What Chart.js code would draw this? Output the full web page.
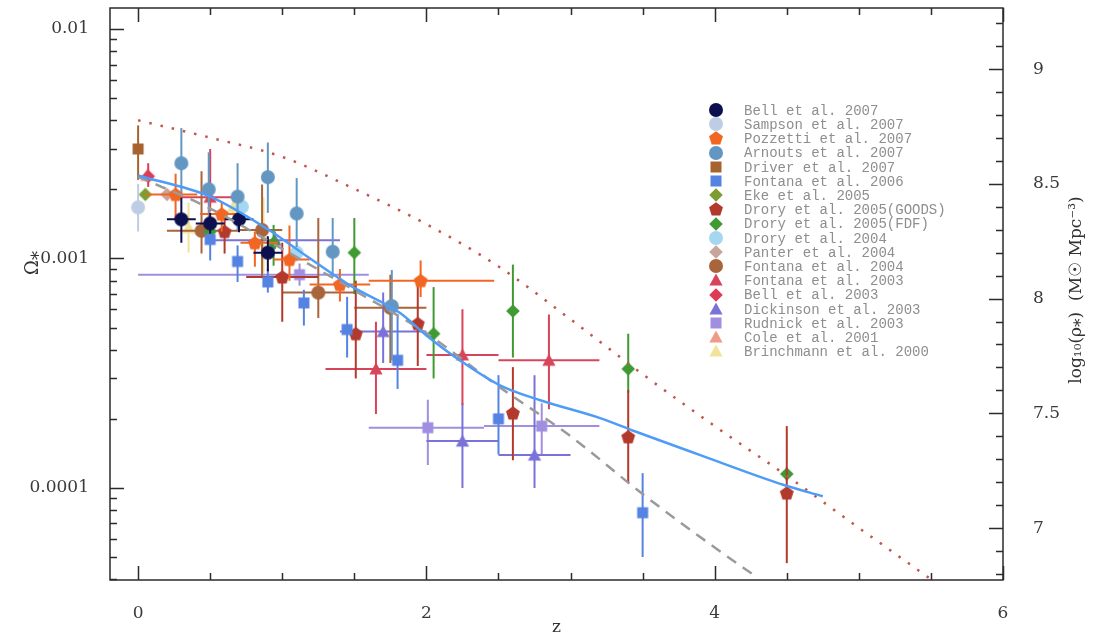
<!DOCTYPE html>
<html>
<head>
<meta charset="utf-8">
<title>Stellar mass density vs redshift</title>
<script src="https://cdn.jsdelivr.net/npm/chart.js@4.4.1/dist/chart.umd.min.js"></script>
<style>
  html, body { margin: 0; padding: 0; background: #fff; }
  #wrap { width: 1095px; height: 638px; }
</style>
</head>
<body>
<div id="wrap"><canvas id="rho-chart" width="1095" height="638"></canvas></div>
<script>
// each row: [z, omega, zLow, zHigh, omegaLow, omegaHigh]  (null = no bar)
var bell07 = [
  [0.30, 0.00148, 0.20, 0.40, 0.00117, 0.00184],
  [0.50, 0.00142, 0.40, 0.60, 0.00128, 0.00158],
  [0.70, 0.00148, 0.60, 0.80, 0.00130, 0.00160],
  [0.90, 0.00106, 0.80, 1.00, 0.00088, 0.00125]
];
var sampson07 = [
  [0.00, 0.00167, null, null, 0.00131, 0.00211]
];
var pozzetti07 = [
  [0.26, 0.00190, 0.06, 0.41, 0.00149, 0.00234],
  [0.58, 0.00156, 0.43, 0.72, 0.00131, 0.00175],
  [0.81, 0.00117, 0.71, 0.97, 0.00092, 0.00131],
  [1.05, 0.00099, 0.94, 1.19, 0.00080, 0.00139],
  [1.40, 0.00077, 1.19, 1.61, 0.00065, 0.00090],
  [1.96, 0.00080, 1.60, 2.47, 0.00068, 0.00098]
];
var arnouts07 = [
  [0.30, 0.00260, null, null, 0.00190, 0.00370],
  [0.49, 0.00200, null, null, 0.00133, 0.00290],
  [0.69, 0.00186, null, null, 0.00133, 0.00260],
  [0.90, 0.00226, null, null, 0.00158, 0.00320],
  [1.10, 0.00157, null, null, 0.00112, 0.00224],
  [1.35, 0.00107, null, null, 0.00083, 0.00150],
  [1.76, 0.00062, null, null, 0.00036, 0.00089]
];
var driver07 = [
  [0.00, 0.00300, null, null, 0.00220, 0.00380]
];
var fontana06 = [
  [0.50, 0.00121, null, null, 0.00098, 0.00132],
  [0.69, 0.00097, null, null, 0.00079, 0.00114],
  [0.90, 0.00079, null, null, 0.00071, 0.00090],
  [1.15, 0.00064, null, null, 0.00051, 0.00073],
  [1.45, 0.00049, null, null, 0.00037, 0.00068],
  [1.80, 0.00036, null, null, 0.00027, 0.00056],
  [2.50, 0.00020, null, null, 0.00014, 0.00031],
  [3.50, 0.000078, null, null, 0.000050, 0.000116]
];
var eke05 = [
  [0.05, 0.00190, null, null, 0.00180, 0.00200]
];
var droryGoods05 = [
  [0.60, 0.00131, null, null, 0.00105, 0.00150],
  [1.00, 0.00083, 0.75, 1.25, 0.00053, 0.00117],
  [1.51, 0.00047, null, null, 0.00030, 0.00080],
  [1.94, 0.00052, null, null, 0.00034, 0.00083],
  [2.60, 0.000212, null, null, 0.000132, 0.000336],
  [3.40, 0.000167, null, null, 0.000105, 0.000267],
  [4.50, 0.000095, null, null, 0.000047, 0.000186]
];
var droryFdf05 = [
  [0.50, 0.00131, null, null, 0.00118, 0.00145],
  [0.94, 0.00117, null, null, 0.00093, 0.00140],
  [1.50, 0.00106, null, null, 0.00070, 0.00150],
  [2.05, 0.00047, null, null, 0.00030, 0.00075],
  [2.60, 0.00059, null, null, 0.00037, 0.00094],
  [3.40, 0.00033, null, null, 0.00026, 0.00047],
  [4.50, 0.000115, null, null, 0.000108, 0.000123]
];
var drory04 = [
  [0.72, 0.00168, null, null, 0.00155, 0.00182],
  [1.10, 0.00106, null, null, 0.00097, 0.00116]
];
var panter04 = [
  [0.20, 0.00190, null, null, 0.00180, 0.00200]
];
var fontana04 = [
  [0.44, 0.00132, 0.20, 0.70, 0.00105, 0.00240],
  [0.86, 0.00133, 0.70, 1.00, 0.00082, 0.00210],
  [1.25, 0.00071, 1.00, 1.50, 0.00055, 0.00150],
  [1.75, 0.00061, 1.50, 2.00, 0.00035, 0.00085]
];
var fontana03 = [
  [0.50, 0.00185, 0.26, 0.70, 0.00160, 0.00300],
  [1.65, 0.00033, 1.30, 2.00, 0.00021, 0.00053],
  [2.25, 0.00038, 2.00, 2.50, 0.00023, 0.00060],
  [2.85, 0.00036, 2.50, 3.20, 0.00022, 0.00057]
];
var bell03 = [
  [0.07, 0.00228, null, null, 0.00205, 0.00260]
];
var dickinson03 = [
  [0.95, 0.00120, 0.50, 1.40, 0.00110, 0.00131],
  [1.70, 0.00048, 1.40, 2.00, 0.00035, 0.00071],
  [2.25, 0.00016, 2.00, 2.50, 0.000100, 0.000234],
  [2.75, 0.000139, 2.50, 3.00, 0.000100, 0.00031]
];
var rudnick03 = [
  [1.12, 0.00085, 0.00, 1.60, 0.00076, 0.00095],
  [2.01, 0.000183, 1.60, 2.40, 0.000126, 0.000242],
  [2.80, 0.000186, 2.40, 3.20, 0.000139, 0.000234]
];
var cole01 = [
  [0.06, 0.00230, null, null, 0.00220, 0.00240]
];
var brinchmann00 = [
  [0.35, 0.00136, null, null, 0.00106, 0.00175],
  [0.66, 0.00168, null, null, 0.00150, 0.00190],
  [0.87, 0.00123, null, null, 0.00086, 0.00185]
];

// model curves: [z, omega]
var fitCurve = [
  [0.00, 0.00230], [0.50, 0.00186], [0.90, 0.00134], [1.125, 0.00107],
  [1.47, 0.000763], [1.82, 0.000577], [2.00, 0.000462], [2.24, 0.000357],
  [2.51, 0.000280], [2.79, 0.000241], [3.21, 0.000201], [3.44, 0.000177],
  [3.90, 0.000139], [4.48, 0.000103], [4.75, 0.000092]
];
var dashCurve = [
  [0.00, 0.00227], [0.50, 0.00165], [1.00, 0.00110], [1.50, 0.000726],
  [2.00, 0.000472], [2.50, 0.000277], [3.00, 0.000168], [3.50, 0.000094],
  [4.00, 0.000055], [4.30, 0.0000405]
];
var dotCurve = [
  [0.00, 0.00400], [0.50, 0.00336], [1.00, 0.00277], [1.50, 0.00201],
  [2.00, 0.00141], [2.50, 0.000923], [3.00, 0.000543], [3.50, 0.000313],
  [4.00, 0.000186], [4.50, 0.000113], [5.00, 0.000067], [5.50, 0.000040]
];

var zTicks = [0, 2, 4, 6];
var zTickLabels = ['0', '2', '4', '6'];
var omegaTicks = [0.01, 0.001, 0.0001];
var omegaTickLabels = ['0.01', '0.001', '0.0001'];
var rhoTicks = [7, 7.5, 8, 8.5, 9];
var rhoTickLabels = ['7', '7.5', '8', '8.5', '9'];

var Z_MIN = -0.195, Z_MAX = 6.0;
var OMEGA_MIN = 3.97e-5, OMEGA_MAX = 0.01234;
var RHO_OFFSET = 11.175; // log10 rho_crit (Msun Mpc^-3)

var series = [
  { label: 'Bell et al. 2007',          rows: bell07,       color: '#0c104e', shape: 'circle' },
  { label: 'Sampson et al. 2007',       rows: sampson07,    color: '#bdcee4', shape: 'circle' },
  { label: 'Pozzetti et al. 2007',      rows: pozzetti07,   color: '#f26623', shape: 'pentagon' },
  { label: 'Arnouts et al. 2007',       rows: arnouts07,    color: '#6496c2', shape: 'circle' },
  { label: 'Driver et al. 2007',        rows: driver07,     color: '#a6622f', shape: 'square' },
  { label: 'Fontana et al. 2006',       rows: fontana06,    color: '#5583e1', shape: 'square' },
  { label: 'Eke et al. 2005',           rows: eke05,        color: '#7d9d33', shape: 'diamond' },
  { label: 'Drory et al. 2005(GOODS)',  rows: droryGoods05, color: '#b3392c', shape: 'pentagon' },
  { label: 'Drory et al. 2005(FDF)',    rows: droryFdf05,   color: '#3f9a32', shape: 'diamond' },
  { label: 'Drory et al. 2004',         rows: drory04,      color: '#a5d8f0', shape: 'circle' },
  { label: 'Panter et al. 2004',        rows: panter04,     color: '#c8a49c', shape: 'diamond' },
  { label: 'Fontana et al. 2004',       rows: fontana04,    color: '#a8643a', shape: 'circle' },
  { label: 'Fontana et al. 2003',       rows: fontana03,    color: '#d8455a', shape: 'triangle' },
  { label: 'Bell et al. 2003',          rows: bell03,       color: '#dc3c55', shape: 'diamond' },
  { label: 'Dickinson et al. 2003',     rows: dickinson03,  color: '#7a72d9', shape: 'triangle' },
  { label: 'Rudnick et al. 2003',       rows: rudnick03,    color: '#a08fe0', shape: 'square' },
  { label: 'Cole et al. 2001',          rows: cole01,       color: '#f29a8a', shape: 'triangle' },
  { label: 'Brinchmann et al. 2000',    rows: brinchmann00, color: '#f1e39a', shape: 'triangle' }
];

function makeMarker(shape, color) {
  var c = document.createElement('canvas');
  c.width = 16; c.height = 16;
  var g = c.getContext('2d');
  g.fillStyle = color;
  g.beginPath();
  if (shape === 'circle') {
    g.arc(8, 8, 7, 0, Math.PI * 2);
  } else if (shape === 'square') {
    g.rect(2.5, 2.5, 11, 11);
  } else if (shape === 'diamond') {
    g.moveTo(8, 1.2); g.lineTo(14.8, 8); g.lineTo(8, 14.8); g.lineTo(1.2, 8);
    g.closePath();
  } else if (shape === 'triangle') {
    g.moveTo(8, 1.5); g.lineTo(14.6, 13.5); g.lineTo(1.4, 13.5);
    g.closePath();
  } else if (shape === 'pentagon') {
    for (var i = 0; i < 5; i++) {
      var a = -Math.PI / 2 + i * 2 * Math.PI / 5;
      var px = 8 + 7.3 * Math.cos(a), py = 8.6 + 7.3 * Math.sin(a);
      if (i === 0) g.moveTo(px, py); else g.lineTo(px, py);
    }
    g.closePath();
  }
  g.fill();
  return c;
}

function toXY(rows) {
  return rows.map(function (r) { return { x: r[0], y: r[1] }; });
}

var datasets = [
  { type: 'line', label: 'fit', data: toXY(fitCurve), borderColor: '#4f9cf7', borderWidth: 2.5,
    pointRadius: 0, cubicInterpolationMode: 'monotone', order: -1 },
  { type: 'line', label: 'dashed', data: toXY(dashCurve), borderColor: '#9a9a9a', borderWidth: 2.5,
    borderDash: [11, 8], pointRadius: 0, cubicInterpolationMode: 'monotone', order: -1 },
  { type: 'line', label: 'dotted', data: toXY(dotCurve), borderColor: '#c2564f', borderWidth: 2.5,
    borderDash: [2.5, 9], pointRadius: 0, cubicInterpolationMode: 'monotone', order: -1 }
];

series.forEach(function (s) {
  s.marker = makeMarker(s.shape, s.color);
  datasets.push({
    type: 'scatter',
    label: s.label,
    data: toXY(s.rows),
    rows: s.rows,
    barColor: s.color,
    pointStyle: s.marker,
    pointRadius: 7
  });
});

function line(ctx, x1, y1, x2, y2) {
  ctx.moveTo(x1, y1); ctx.lineTo(x2, y2);
}

// keep the plot frame fixed: no extra room for edge labels
function noPadding(s) {
  s.paddingTop = 0; s.paddingBottom = 0; s.paddingLeft = 0; s.paddingRight = 0;
}

var decorations = {
  id: 'decorations',
  beforeDatasetDraw: function (chart, args) {
    var ds = chart.data.datasets[args.index];
    if (!ds.rows) return;
    var xs = chart.scales.x, ys = chart.scales.y, ctx = chart.ctx, a = chart.chartArea;
    ctx.save();
    ctx.beginPath();
    ctx.rect(a.left, a.top, a.right - a.left, a.bottom - a.top);
    ctx.clip();
    ctx.strokeStyle = ds.barColor;
    ctx.lineWidth = 2;
    ds.rows.forEach(function (r) {
      var px = xs.getPixelForValue(r[0]), py = ys.getPixelForValue(r[1]);
      ctx.beginPath();
      if (r[2] !== null) line(ctx, xs.getPixelForValue(r[2]), py, xs.getPixelForValue(r[3]), py);
      if (r[4] !== null) line(ctx, px, ys.getPixelForValue(r[4]), px, ys.getPixelForValue(r[5]));
      ctx.stroke();
    });
    ctx.restore();
  },
  afterDraw: function (chart) {
    var ctx = chart.ctx, a = chart.chartArea;
    var xs = chart.scales.x, ys = chart.scales.y, y2 = chart.scales.y2;
    var MAJ = 14, MIN = 7;
    ctx.save();
    ctx.strokeStyle = '#2b2b2b';
    ctx.lineWidth = 1.5;
    ctx.strokeRect(a.left, a.top, a.right - a.left, a.bottom - a.top);

    ctx.beginPath();
    // z ticks, bottom and top
    for (var k = 0; k <= 12; k++) {
      var z = k * 0.5;
      var x = Math.round(xs.getPixelForValue(z)) + 0.5;
      var len = (k % 4 === 0) ? MAJ : MIN;
      line(ctx, x, a.bottom, x, a.bottom - len);
      line(ctx, x, a.top, x, a.top + len);
    }
    // omega ticks, left edge
    for (var d = -5; d <= -2; d++) {
      for (var m = 1; m <= 9; m++) {
        var v = m * Math.pow(10, d);
        if (v < OMEGA_MIN || v > OMEGA_MAX) continue;
        var y = Math.round(ys.getPixelForValue(v)) + 0.5;
        line(ctx, a.left, y, a.left + (m === 1 ? MAJ : MIN), y);
      }
    }
    // log rho ticks, right edge
    for (var t = 67; t <= 93; t++) {
      var r = t / 10;
      var yy = y2.getPixelForValue(r);
      if (yy < a.top + 1 || yy > a.bottom - 1) continue;
      yy = Math.round(yy) + 0.5;
      line(ctx, a.right, yy, a.right - (t % 5 === 0 ? MAJ : MIN), yy);
    }
    ctx.stroke();

    // axis titles
    ctx.fillStyle = '#333';
    ctx.textAlign = 'center';
    ctx.textBaseline = 'middle';
    ctx.font = '17px "DejaVu Serif"';
    ctx.fillText('z', (a.left + a.right) / 2, 628);

    ctx.save();
    ctx.translate(33, 263);
    ctx.rotate(-Math.PI / 2);
    ctx.font = '18px "DejaVu Serif"';
    ctx.fillText('\u03A9\u204E', 0, 0);
    ctx.restore();

    ctx.save();
    ctx.translate(1077, 290);
    ctx.rotate(-Math.PI / 2);
    ctx.font = '17px "DejaVu Serif"';
    ctx.fillText('log\u2081\u2080(\u03C1\u204E)  (M\u2609 Mpc\u207B\u00B3)', 0, 0);
    ctx.restore();

    // legend
    ctx.font = '14px "Liberation Mono"';
    ctx.fillStyle = '#8e8e8e';
    ctx.textAlign = 'left';
    series.forEach(function (s, i) {
      var ly = 110 + i * 14.2;
      ctx.drawImage(s.marker, 716 - 8, Math.round(ly) - 8);
      ctx.fillText(s.label, 744, ly + 1);
    });
    ctx.restore();
  }
};

var tickFont = { family: 'DejaVu Serif', size: 17 };

var rhoChart = new Chart(document.getElementById('rho-chart').getContext('2d'), {
  data: { datasets: datasets },
  options: {
    responsive: false,
    animation: false,
    events: [],
    layout: { padding: { top: 8, left: 0, right: 0, bottom: 0 } },
    plugins: { legend: { display: false }, tooltip: { enabled: false } },
    scales: {
      x: {
        type: 'linear', position: 'bottom', min: Z_MIN, max: Z_MAX,
        grid: { display: false }, border: { display: false },
        ticks: { font: tickFont, color: '#3a3a3a', padding: 15,
          callback: function (v, i) { return zTickLabels[i]; } },
        afterBuildTicks: function (s) { s.ticks = zTicks.map(function (v) { return { value: v }; }); },
        afterFit: function (s) { s.height = 58; noPadding(s); }
      },
      y: {
        type: 'logarithmic', position: 'left', min: OMEGA_MIN, max: OMEGA_MAX,
        grid: { display: false }, border: { display: false },
        ticks: { font: tickFont, color: '#3a3a3a', padding: 13,
          callback: function (v, i) { return omegaTickLabels[i]; } },
        afterBuildTicks: function (s) { s.ticks = omegaTicks.map(function (v) { return { value: v }; }); },
        afterFit: function (s) { s.width = 110; noPadding(s); }
      },
      y2: {
        type: 'linear', position: 'right',
        min: Math.log10(OMEGA_MIN) + RHO_OFFSET, max: Math.log10(OMEGA_MAX) + RHO_OFFSET,
        grid: { display: false }, border: { display: false },
        ticks: { font: tickFont, color: '#3a3a3a', padding: 22,
          callback: function (v, i) { return rhoTickLabels[i]; } },
        afterBuildTicks: function (s) { s.ticks = rhoTicks.map(function (v) { return { value: v }; }); },
        afterFit: function (s) { s.width = 92; noPadding(s); }
      }
    }
  },
  plugins: [decorations]
});
</script>
</body>
</html>
